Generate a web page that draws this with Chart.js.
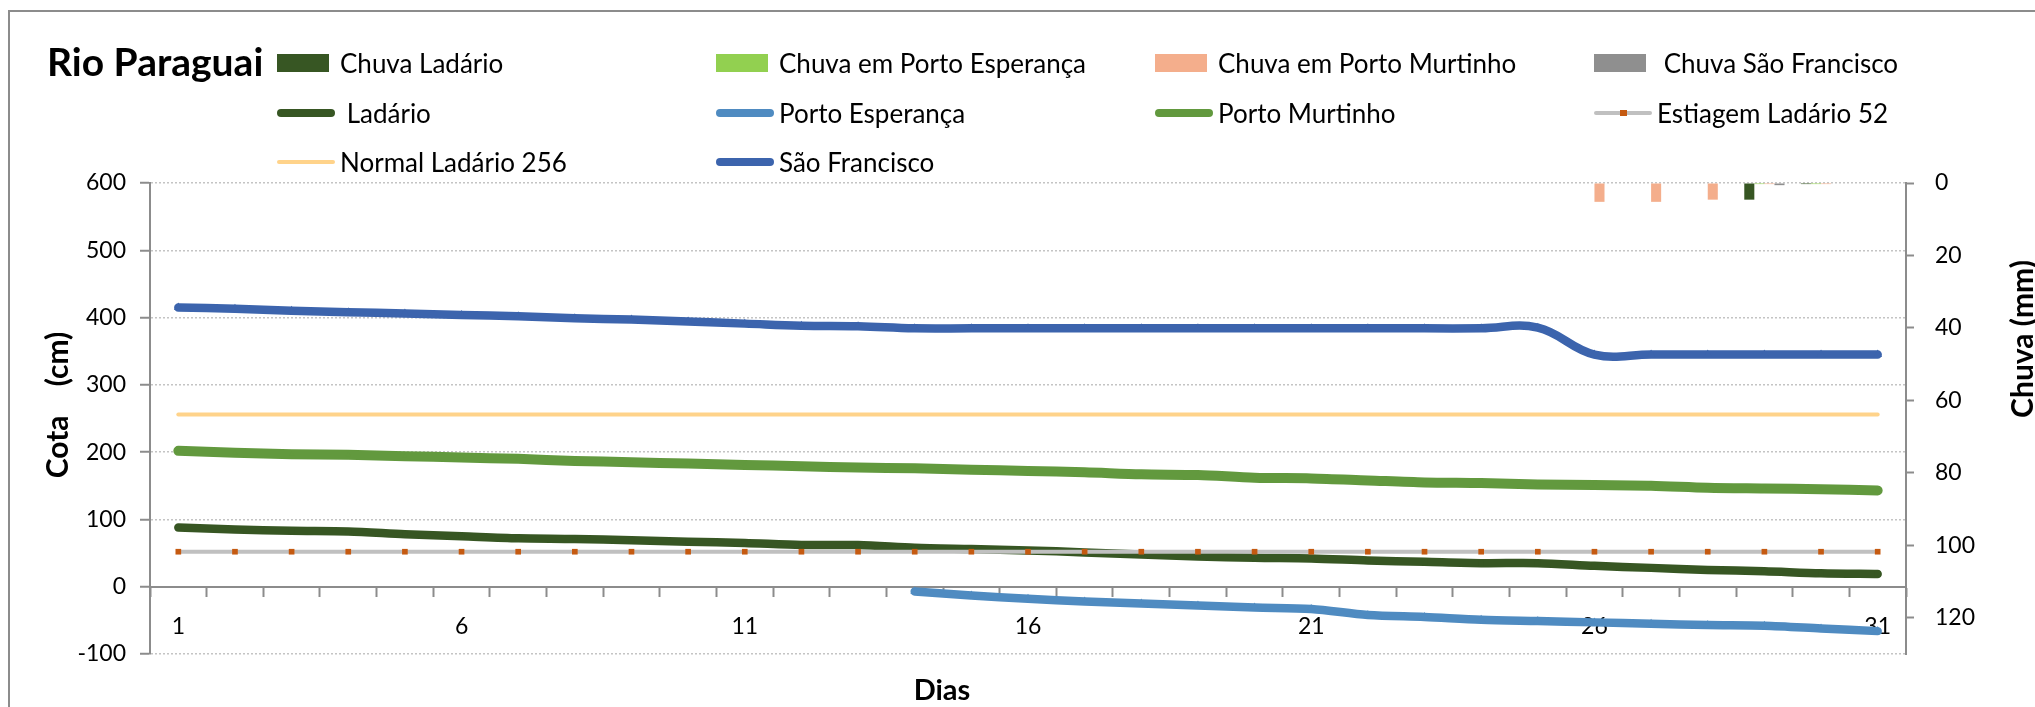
<!DOCTYPE html>
<html>
<head>
<meta charset="utf-8">
<script src="https://cdn.jsdelivr.net/npm/chart.js@4.4.0/dist/chart.umd.min.js"></script>
<style>
  html, body { margin: 0; padding: 0; background: #fff; overflow: hidden; }
  #wrap { position: relative; width: 2035px; height: 707px; overflow: hidden; }
  #frame { position: absolute; left: 8px; top: 10px; width: 2100px; height: 800px; border: 2px solid #8c8c8c; box-sizing: border-box; }
  #chart { position: absolute; left: 0; top: 0; }
  .item { position: absolute; height: 30px; display: flex; align-items: center; font: 26px Lato, sans-serif; white-space: pre; color: #000; }
  .sw { flex: none; position: relative; }
</style>
</head>
<body>
<div id="wrap">
  <div id="frame"></div>
  <canvas id="chart" width="2035" height="707"></canvas>
  <div id="legend"></div>
</div>
<script>
// days of the month
const days = ['1','2','3','4','5','6','7','8','9','10','11','12','13','14','15','16',
              '17','18','19','20','21','22','23','24','25','26','27','28','29','30','31'];
const xTickLabels = ['1', '6', '11', '16', '21', '26', '31'];

// rain (mm), right axis
const chuvaLadario = [null,null,null,null,null,null,null,null,null,null,null,null,null,null,null,null,
                      null,null,null,null,null,null,null,null,null,null,null,null,4.6,0.3,null];
const chuvaPortoEsperanca = [null,null,null,null,null,null,null,null,null,null,null,null,null,null,null,null,
                             null,null,null,null,null,null,null,null,null,null,null,null,0.3,0.3,null];
const chuvaPortoMurtinho = [null,null,null,null,null,null,null,null,null,null,null,null,null,null,null,null,
                            null,null,null,null,null,null,null,null,null,5.2,5.2,4.6,0.3,0.3,null];
const chuvaSaoFrancisco = [null,null,null,null,null,null,null,null,null,null,null,null,null,null,null,null,
                           null,null,null,null,null,null,null,null,null,null,null,null,0.6,null,null];

// river levels (cm), left axis
const ladario = [88,85,83,82,78,75,72,71,69,67,65,62,62,58,56,54,51,48,45,43,42,39,37,35,35,31,28,25,23,20,19];
const portoEsperanca = [null,null,null,null,null,null,null,null,null,null,null,null,null,
                        -7,-13,-18,-22,-25,-28,-31,-33,-42,-45,-49,-51,-53,-55,-57,-58,-62,-66];
const portoMurtinho = [202,199,197,196,194,192,190,187,185,183,181,179,177,176,174,172,
                       170,167,166,162,161,158,155,154,152,151,150,147,146,145,143];
const estiagemLadario = [52,52,52,52,52,52,52,52,52,52,52,52,52,52,52,52,
                         52,52,52,52,52,52,52,52,52,52,52,52,52,52,52];
const normalLadario = [256,256,256,256,256,256,256,256,256,256,256,256,256,256,256,256,
                       256,256,256,256,256,256,256,256,256,256,256,256,256,256,256];
const saoFrancisco = [415,413,410,408,406,404,402,399,397,394,391,388,387,384,384,384,
                      384,384,384,384,384,384,384,384,385,345,345,345,345,345,345];

const font = 'Lato, sans-serif';
const axisGray = '#8c8c8c';

function barSet(label, data, color, order) {
    return {
        type: 'bar', label: label, data: data, yAxisID: 'y2',
        backgroundColor: color, borderWidth: 0,
        categoryPercentage: 0.71, barPercentage: 1.0, order: order
    };
}

function lineSet(label, data, color, width, style, radius, order, tension) {
    return {
        type: 'line', label: label, data: data, yAxisID: 'y',
        borderColor: color, backgroundColor: color, borderWidth: width,
        borderCapStyle: 'round', borderJoinStyle: 'round',
        pointStyle: style, pointRadius: radius, pointBorderWidth: 0,
        pointBackgroundColor: color, tension: tension, fill: false, order: order
    };
}

const datasets = [
    barSet('Chuva Ladário', chuvaLadario, '#375623', 10),
    barSet('Chuva em Porto Esperança', chuvaPortoEsperanca, '#92d050', 11),
    barSet('Chuva em Porto Murtinho', chuvaPortoMurtinho, '#f4ae8c', 12),
    barSet(' Chuva São Francisco', chuvaSaoFrancisco, '#8f8f8f', 13),
    lineSet(' Ladário', ladario, '#375623', 8.5, 'rect', 4, 6, 0.3),
    lineSet('Porto Esperança', portoEsperanca, '#4f8bc1', 8.5, 'triangle', 5, 5, 0.3),
    lineSet('Porto Murtinho', portoMurtinho, '#62993e', 10, 'triangle', 3, 4, 0.3),
    lineSet('Estiagem Ladário 52', estiagemLadario, '#c0c0c0', 4, 'rect', 4, 3, 0),
    lineSet('Normal Ladário 256', normalLadario, '#ffd38a', 4, 'circle', 0, 2, 0),
    lineSet('São Francisco', saoFrancisco, '#3c64ad', 8.5, 'triangle', 5, 1, 0.4)
];
// orange markers on the gray Estiagem line
datasets[7].pointBackgroundColor = '#c55a11';

// titles drawn on the canvas
const chartTexts = {
    id: 'chartTexts',
    afterDraw(chart) {
        const ctx = chart.ctx;
        ctx.save();
        ctx.fillStyle = '#000';
        ctx.textBaseline = 'middle';
        ctx.textAlign = 'left';
        ctx.font = 'bold 39px ' + font;
        ctx.fillText('Rio Paraguai', 47, 63);
        ctx.textAlign = 'center';
        ctx.font = 'bold 29px ' + font;
        ctx.fillText('Dias', 942, 691);
        ctx.font = 'bold 30px ' + font;
        [['Cota    (cm)', 58, 405], ['Chuva (mm)', 2023, 339]].forEach(([t, x, y]) => {
            ctx.save();
            ctx.translate(x, y);
            ctx.rotate(-Math.PI / 2);
            ctx.fillText(t, 0, 0);
            ctx.restore();
        });
        ctx.restore();
    }
};

const tickFont = { family: font, size: 23 };

const chart = new Chart(document.getElementById('chart'), {
    type: 'bar',
    data: { labels: days, datasets: datasets },
    options: {
        responsive: false,
        animation: false,
        layout: { padding: { top: 183, bottom: 53, left: 0, right: 0 } },
        plugins: {
            legend: { display: false },
            tooltip: { enabled: false }
        },
        scales: {
            x: {
                position: { y: 0 },
                offset: true,
                grid: { offset: true, drawOnChartArea: false, color: axisGray, tickLength: 9, tickWidth: 2 },
                border: { color: axisGray, width: 2 },
                ticks: {
                    autoSkip: false, maxRotation: 0, padding: 17, color: '#000', font: tickFont,
                    callback: (v, i) => xTickLabels.includes(days[i]) ? days[i] : ''
                },
                afterFit: s => { s.height = 0; }
            },
            y: {
                position: 'left',
                min: -100, max: 600,
                ticks: { stepSize: 100, padding: 14, color: '#000', font: tickFont },
                grid: { color: '#c4c4c4', lineWidth: 1.5, tickLength: 10, tickColor: axisGray, tickWidth: 2 },
                border: { color: axisGray, width: 2, dash: [2, 2] },
                afterFit: s => { s.width = 150; }
            },
            y2: {
                position: 'right',
                min: 0, max: 130, reverse: true,
                ticks: { stepSize: 20, includeBounds: false, padding: 21, color: '#000', font: tickFont },
                grid: { drawOnChartArea: false, tickLength: 8, color: axisGray, tickWidth: 2 },
                border: { color: axisGray, width: 2 },
                afterFit: s => { s.width = 129; }
            }
        }
    },
    plugins: [chartTexts]
});

// legend in four columns, built from the datasets
const legendDiv = document.getElementById('legend');
chart.data.datasets.forEach((ds, i) => {
    const item = document.createElement('div');
    item.className = 'item';
    item.style.left = (277 + (i % 4) * 439) + 'px';
    item.style.top = (48 + Math.floor(i / 4) * 49.5) + 'px';

    const sw = document.createElement('span');
    sw.className = 'sw';
    if (ds.type === 'bar') {
        sw.style.width = '52px';
        sw.style.height = '18px';
        sw.style.background = ds.backgroundColor;
        sw.style.marginRight = '11px';
    } else {
        const h = Math.min(ds.borderWidth, 8);
        sw.style.width = '58px';
        sw.style.height = h + 'px';
        sw.style.borderRadius = (h / 2) + 'px';
        sw.style.background = ds.borderColor;
        sw.style.marginRight = '5px';
        if (ds.pointRadius > 0 && ds.pointBackgroundColor !== ds.borderColor) {
            const m = document.createElement('span');
            m.style.cssText = 'position:absolute;left:26px;top:' + (h / 2 - 3) + 'px;width:7px;height:6px;background:' + ds.pointBackgroundColor;
            sw.appendChild(m);
        }
    }
    item.appendChild(sw);
    item.appendChild(document.createTextNode(ds.label));
    legendDiv.appendChild(item);
});
</script>
</body>
</html>
